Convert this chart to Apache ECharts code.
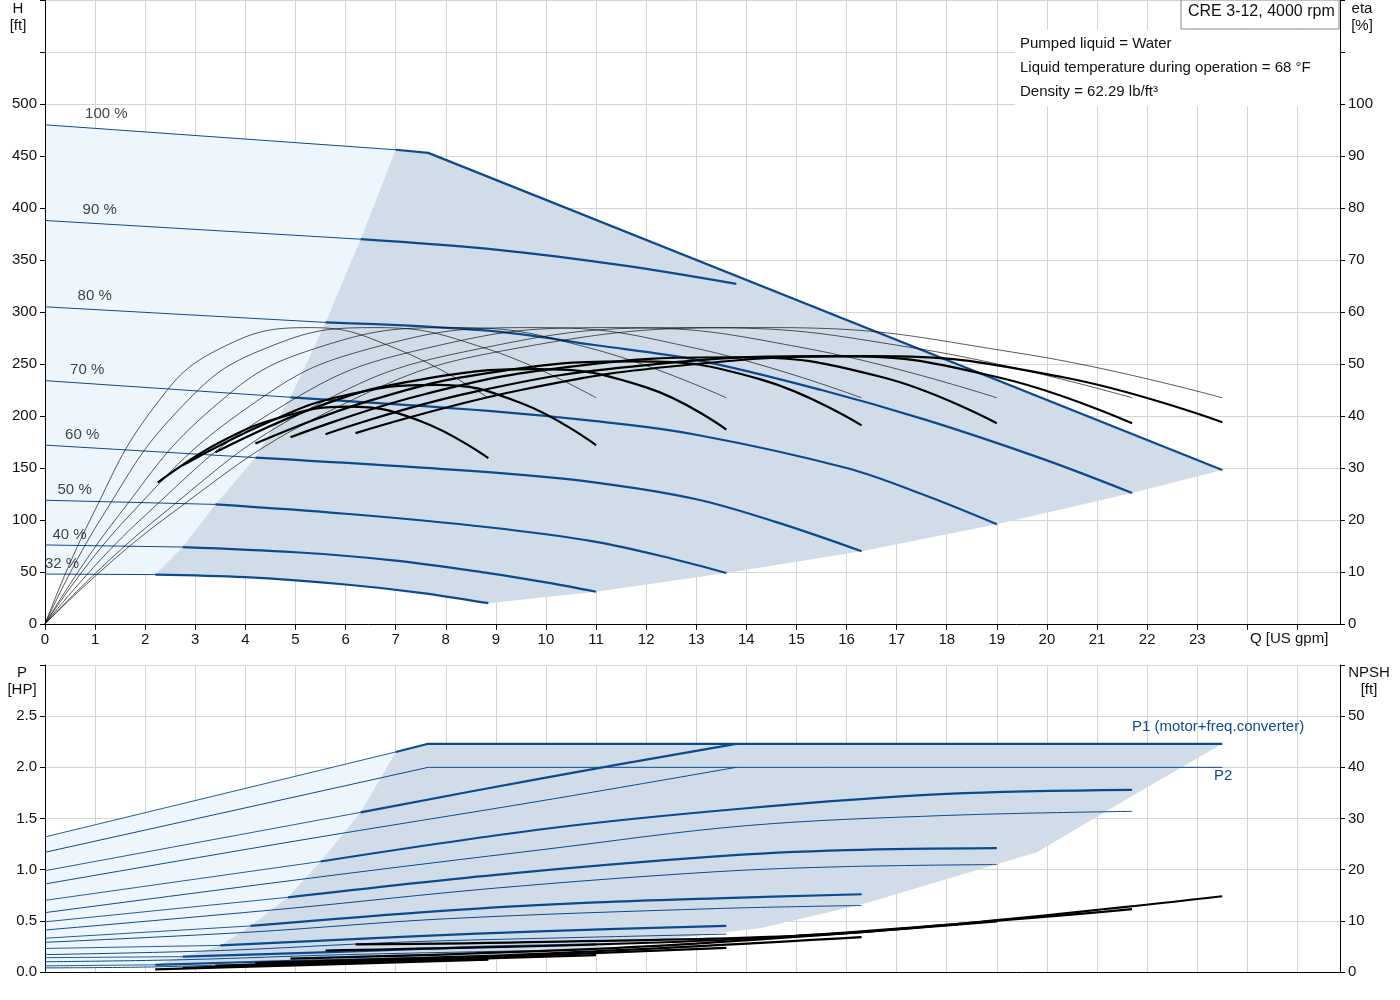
<!DOCTYPE html>
<html><head><meta charset="utf-8">
<script src="https://cdn.jsdelivr.net/npm/echarts@6/dist/echarts.min.js"></script>
<style>html,body{margin:0;background:#fff}#c{width:1400px;height:1000px}</style>
</head><body><div id="c"></div>
<script>
// ---- Head curves (Q [US gpm], H [ft]) ----
const H32_thin=[[0,48],[2.2,47.5]], H32=[[2.2,47.5],[4,45],[6,38],[7.5,30],[8.85,20]];
const H40_thin=[[0,76],[2.75,74]], H40=[[2.75,74],[5,69],[7,61],[8.85,49],[10,40],[11,31]];
const H50_thin=[[0,119],[3.4,115]], H50=[[3.4,115],[6,106],[8.85,93],[11,79],[12.5,63],[13.6,49]];
const H60_thin=[[0,172],[4.2,160]], H60=[[4.2,160],[8.85,146],[11,136],[13,120],[14.6,98],[16.3,70]];
const H70_thin=[[0,234],[4.9,218]], H70=[[4.9,218],[8.85,205],[11,195],[13,182],[16,150],[17.5,125],[19,96]];
const H80_thin=[[0,305],[5.6,290]], H80=[[5.6,290],[8.85,282],[11,268],[13,254],[15.5,225],[17.6,196],[19.9,159],[21.7,126]];
const H90_thin=[[0,388],[6.3,370]], H90=[[6.3,370],[9,360],[11.5,345],[13.8,327]];
const H100_thin=[[0,480],[7,456]], H100=[[7,456],[7.65,453],[23.5,148]];
const H_leftBound=[[7,456],[6.3,370],[5.6,290],[4.9,218],[4.2,160],[3.4,115],[2.75,74],[2.2,47.5]];
const H_rightEdge=[[23.5,148],[21.7,126],[19,96],[16.3,70],[13.6,49],[11,31],[8.85,20]];
// ---- Efficiency curves (eta %) ----
const E_thin1=[[0,0],[0.9,20],[2.2,42],[3.5,53],[5.3,57],[7,53],[8.85,43.5]];
const E_thin2=[[0,0],[1.1,20],[2.75,42],[4.4,53],[6.6,57],[8.8,53],[11,43.5]];
const E_thin3=[[0,0],[1.4,20],[3.4,42],[5.4,53],[8.2,57],[10.9,53],[13.6,43.5]];
const E_thin4=[[0,0],[1.6,20],[4.1,42],[6.5,53],[9.8,57],[13,53],[16.3,43.5]];
const E_thin5=[[0,0],[1.9,20],[4.75,42],[7.6,53],[11.4,57],[15.2,53],[19,43.5]];
const E_thin6=[[0,0],[2.2,20],[5.4,42],[8.7,53],[13,57],[17.4,53],[21.7,43.5]];
const E_thin7=[[0,0],[2.35,20],[5.9,42],[9.4,53],[14.5,57],[19.5,52],[23.5,43.5]];
const E1=[[2.25,27.2],[3.5,35],[4.8,40],[6.05,41.8],[7.5,39],[8.85,31.9]];
const E2=[[2.75,30.5],[4.5,39],[6,44],[7.8,46],[9.5,42.5],[11,34.4]];
const E3=[[3.4,33],[5.5,42],[7.5,47],[9.8,49],[12,45.5],[13.6,37.4]];
const E4=[[4.2,34.7],[6.5,43],[9,48.5],[11.8,50.5],[14.3,47],[16.3,38.2]];
const E5=[[4.9,35.9],[7.5,44],[10.5,49.5],[13.8,51.3],[16.7,47.5],[19,38.6]];
const E6=[[5.6,36.5],[8.5,44.5],[12,49.8],[15.8,51.5],[19,47.5],[21.7,38.6]];
const E7=[[6.2,36.7],[9.5,45],[13,50],[16.5,51.5],[20.3,47.5],[23.5,38.8]];
// ---- Power curves (P [HP]) ----
const P1_100_thin=[[0,1.32],[7,2.15]], P1_100=[[7,2.15],[7.65,2.23],[23.5,2.23]];
const P1_90_thin=[[0,0.99],[6.3,1.56]], P1_90=[[6.3,1.56],[10,1.9],[13.8,2.23]];
const P1_80_thin=[[0,0.70],[5.5,1.08]], P1_80=[[5.5,1.08],[10,1.4],[14,1.6],[18,1.74],[21.7,1.78]];
const P1_70_thin=[[0,0.49],[4.85,0.73]], P1_70=[[4.85,0.73],[9,0.95],[13.4,1.13],[16,1.19],[19,1.21]];
const P1_60_thin=[[0,0.33],[4.1,0.45]], P1_60=[[4.1,0.45],[8,0.6],[11,0.68],[13.4,0.72],[16.3,0.76]];
const P1_50_thin=[[0,0.23],[3.5,0.26]], P1_50=[[3.5,0.26],[7,0.34],[10,0.4],[13.6,0.45]];
const P1_40_thin=[[0,0.14],[2.75,0.15]], P1_40=[[2.75,0.15],[6,0.2],[9,0.25],[11,0.27]];
const P1_32_thin=[[0,0.06],[2.2,0.07]], P1_32=[[2.2,0.07],[5,0.11],[8.85,0.15]];
const P2_100=[[0,1.17],[7.65,2.0],[23.5,2.0]];
const P2_90=[[0,0.86],[5,1.28],[10,1.68],[13.8,2.0]];
const P2_80=[[0,0.58],[5.5,0.93],[10,1.2],[14,1.43],[18,1.53],[21.7,1.57]];
const P2_70=[[0,0.41],[4.85,0.62],[9,0.82],[13.4,0.98],[16,1.03],[19,1.05]];
const P2_60=[[0,0.29],[4.1,0.39],[8,0.52],[13.4,0.62],[16.3,0.65]];
const P2_50=[[0,0.17],[3.5,0.21],[7,0.29],[10,0.33],[13.6,0.37]];
const P2_40=[[0,0.10],[2.75,0.12],[6,0.17],[11,0.22]];
const P2_32=[[0,0.04],[2.2,0.05],[5,0.09],[8.85,0.12]];
const P_leftBound=[[7,2.15],[6.3,1.56],[5.5,1.08],[4.85,0.73],[4.1,0.45],[3.5,0.26],[2.75,0.15],[2.2,0.07]];
const P_rightEdge=[[23.5,2.23],[21.7,1.72],[19.8,1.17],[16.3,0.66],[14.3,0.43],[11,0.24],[8.85,0.12]];
// ---- NPSH curves [ft] ----
const N32=[[2.2,0.5],[5,1.3],[8.85,2.4]];
const N40=[[2.75,0.8],[6,1.8],[11,3.3]];
const N50=[[3.4,1.2],[8,2.6],[13.6,4.7]];
const N60=[[4.2,1.8],[10,3.6],[16.3,6.8]];
const N70=[[4.9,2.6],[12,5],[19,9.9]];
const N80=[[5.6,4.2],[14,6.5],[21.7,12.3]];
const N100=[[6.2,5.4],[10,5.9],[16,7.6],[23.5,14.8]];
// ---- labels ----
const speedLabels=['100 %','90 %','80 %','70 %','60 %','50 %','40 %','32 %'];
const speedLabelH=[480,388,305,234,172,119,76,48];

const BLUE='#0d4a8c', LIGHT='#eef6fd', DARK='#d0dde9';
const FONT='Liberation Sans';
const chart=echarts.init(document.getElementById('c'));
function poly(pts,xi,yi,color){return {type:'custom',xAxisIndex:xi,yAxisIndex:yi,data:[0],silent:true,z:0,
  renderItem:(p,api)=>({type:'polygon',shape:{points:pts.map(q=>api.coord(q))},style:{fill:color}})};}
function ln(d,xi,yi,color,w,sm){return {type:'line',xAxisIndex:xi,yAxisIndex:yi,data:d,symbol:'none',smooth:sm===undefined?0.35:sm,
  lineStyle:{color:color,width:w},silent:true,z:3,animation:false};}
const series=[];
// top areas
series.push(poly([].concat(H100_thin,H_leftBound.slice(1),[[0,48]]),0,0,LIGHT));
series.push(poly([].concat(H_leftBound.slice().reverse(),H100.slice(1),H_rightEdge.slice(1),H32.slice().reverse().slice(1,-1)),0,0,DARK));
// bottom areas
series.push(poly([].concat(P1_100_thin,P_leftBound.slice(1),[[0,0.04]]),1,2,LIGHT));
series.push(poly([].concat(P_leftBound.slice().reverse(),P1_100.slice(1),P_rightEdge.slice(1),P2_32.slice().reverse().slice(1,-1)),1,2,DARK));
[H32_thin,H40_thin,H50_thin,H60_thin,H70_thin,H80_thin,H90_thin,H100_thin].forEach(d=>series.push(ln(d,0,0,BLUE,1,false)));
[H32,H40,H50,H60,H70,H80,H90].forEach(d=>series.push(ln(d,0,0,BLUE,2.2)));
series.push(ln(H100,0,0,BLUE,2.2,false));
[E_thin1,E_thin2,E_thin3,E_thin4,E_thin5,E_thin6,E_thin7].forEach(d=>series.push(ln(d,0,1,'#111',0.7,0.45)));
[E1,E2,E3,E4,E5,E6,E7].forEach(d=>series.push(ln(d,0,1,'#000',2.2,0.45)));
[P1_100_thin,P1_90_thin,P1_80_thin,P1_70_thin,P1_60_thin,P1_50_thin,P1_40_thin,P1_32_thin].forEach(d=>series.push(ln(d,1,2,BLUE,0.9,false)));
series.push(ln(P1_100,1,2,BLUE,2.2,false));
[P1_90,P1_80,P1_70,P1_60,P1_50,P1_40,P1_32].forEach(d=>series.push(ln(d,1,2,BLUE,2.2)));
series.push(ln(P2_100,1,2,BLUE,1,false));
[P2_90,P2_80,P2_70,P2_60,P2_50,P2_40,P2_32].forEach(d=>series.push(ln(d,1,2,BLUE,1)));
[N32,N40,N50,N60,N70,N80,N100].forEach(d=>series.push(ln(d,1,3,'#000',2.2)));
// speed labels placed at data coords via markPoint-free scatter labels
series.push({type:'scatter',xAxisIndex:0,yAxisIndex:0,symbolSize:0,silent:true,z:5,
  data:speedLabels.map((t,i)=>({value:[0,speedLabelH[i]],name:t})),
  label:{show:true,formatter:p=>p.name,position:'insideBottomLeft',color:'#111',fontSize:15,fontFamily:FONT,
    offset:null}});
const labX=[0.8,0.75,0.65,0.5,0.4,0.25,0.15,0.0];
series[series.length-1].data=speedLabels.map((t,i)=>({value:[labX[i],speedLabelH[i]],name:t}));
series[series.length-1].label.position=[0,-18];

const gridC='#d4d4d4';
const axLab={color:'#111',fontSize:15,fontFamily:FONT};
chart.setOption({
  animation:false,
  grid:[{left:45,top:0,width:1295,height:624},{left:45,top:665,width:1295,height:307}],
  xAxis:[
   {gridIndex:0,type:'value',min:0,max:25.85,interval:1,
    axisLine:{lineStyle:{color:'#000'}},axisTick:{show:true,length:6,lineStyle:{color:'#000'}},
    axisLabel:Object.assign({},axLab,{formatter:v=>v<=23?String(v):'',showMaxLabel:false}),
    splitLine:{show:true,lineStyle:{color:gridC}}},
   {gridIndex:1,type:'value',min:0,max:25.85,interval:1,
    axisLine:{lineStyle:{color:'#000'}},axisTick:{show:false},axisLabel:{show:false},
    splitLine:{show:true,lineStyle:{color:gridC}}}],
  yAxis:[
   {gridIndex:0,type:'value',min:0,max:600,interval:50,
    axisLine:{show:true,lineStyle:{color:'#000'}},axisTick:{show:true,length:5,lineStyle:{color:'#000'}},
    axisLabel:Object.assign({},axLab,{formatter:v=>v<=500?String(v):''}),
    splitLine:{show:true,lineStyle:{color:gridC}}},
   {gridIndex:0,type:'value',min:0,max:120,interval:10,position:'right',
    axisLine:{show:true,lineStyle:{color:'#000'}},axisTick:{show:true,length:5,lineStyle:{color:'#000'}},
    axisLabel:Object.assign({},axLab,{formatter:v=>v<=100?String(v):''}),splitLine:{show:false}},
   {gridIndex:1,type:'value',min:0,max:3,interval:0.5,
    axisLine:{show:true,lineStyle:{color:'#000'}},axisTick:{show:true,length:5,lineStyle:{color:'#000'}},
    axisLabel:Object.assign({},axLab,{formatter:v=>v<=2.5?v.toFixed(1):''}),
    splitLine:{show:true,lineStyle:{color:gridC}}},
   {gridIndex:1,type:'value',min:0,max:60,interval:10,position:'right',
    axisLine:{show:true,lineStyle:{color:'#000'}},axisTick:{show:true,length:5,lineStyle:{color:'#000'}},
    axisLabel:Object.assign({},axLab,{formatter:v=>v<=50?String(v):''}),splitLine:{show:false}}],
  graphic:[
   {type:'rect',shape:{x:1015,y:30,width:324,height:76},style:{fill:'#fff'},z:10},
   {type:'rect',shape:{x:1181,y:0,width:158,height:29},style:{fill:'#fff',stroke:'#888',lineWidth:1},z:11},
   {type:'text',x:1188,y:4,style:{text:'CRE 3-12, 4000 rpm',font:'16px "Liberation Sans"',fill:'#111'},z:12},
   {type:'text',x:1020,y:36,style:{text:'Pumped liquid = Water',font:'15px "Liberation Sans"',fill:'#111'},z:12},
   {type:'text',x:1020,y:60,style:{text:'Liquid temperature during operation = 68 °F',font:'15px "Liberation Sans"',fill:'#111'},z:12},
   {type:'text',x:1020,y:84,style:{text:'Density = 62.29 lb/ft³',font:'15px "Liberation Sans"',fill:'#111'},z:12},
   {type:'text',x:18,y:0,style:{text:'H\n[ft]',font:'15px "Liberation Sans"',fill:'#111',align:'center',lineHeight:17},z:12},
   {type:'text',x:1362,y:0,style:{text:'eta\n[%]',font:'15px "Liberation Sans"',fill:'#111',align:'center',lineHeight:17},z:12},
   {type:'text',x:1250,y:631,style:{text:'Q [US gpm]',font:'15px "Liberation Sans"',fill:'#111'},z:12},
   {type:'text',x:22,y:664,style:{text:'P\n[HP]',font:'15px "Liberation Sans"',fill:'#111',align:'center',lineHeight:17},z:12},
   {type:'text',x:1369,y:664,style:{text:'NPSH\n[ft]',font:'15px "Liberation Sans"',fill:'#111',align:'center',lineHeight:17},z:12},
   {type:'text',x:1132,y:719,style:{text:'P1 (motor+freq.converter)',font:'15px "Liberation Sans"',fill:BLUE},z:12},
   {type:'text',x:1214,y:768,style:{text:'P2',font:'15px "Liberation Sans"',fill:BLUE},z:12}
  ],
  series:series
});
</script></body></html>
